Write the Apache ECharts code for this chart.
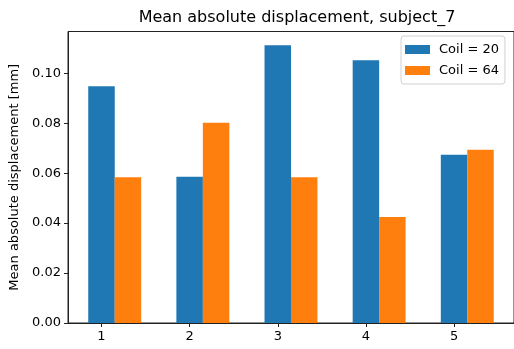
<!DOCTYPE html>
<html>
<head>
<meta charset="utf-8">
<script src="https://cdn.jsdelivr.net/npm/echarts@6/dist/echarts.min.js"></script>
<style>
  html, body { margin: 0; padding: 0; background: #fff; }
  #chart { width: 514px; height: 349px; }
</style>
</head>
<body>
<div id="chart"></div>
<script>
// Run numbers (x positions of the groups)
const runs = [1, 2, 3, 4, 5];
// Mean absolute displacement per run, in mm
const coil20 = [0.0948, 0.0586, 0.1112, 0.1052, 0.0674];
const coil64 = [0.0584, 0.0802, 0.0584, 0.0424, 0.0694];
const seriesNames = ['Coil = 20', 'Coil = 64'];
const yTicks = [0, 0.02, 0.04, 0.06, 0.08, 0.10];

// second group sits 0.3 to the right of each run
const offset = 0.3;
const pts20 = runs.map((r, i) => [r, coil20[i]]);
const pts64 = runs.map((r, i) => [r + offset, coil64[i]]);

const font = 'DejaVu Sans';
const chart = echarts.init(document.getElementById('chart'), null, { renderer: 'canvas' });

chart.setOption({
  animation: false,
  backgroundColor: '#fff',
  title: {
    text: 'Mean absolute displacement, subject_7',
    left: 292,
    textAlign: 'center',
    top: 5,
    textStyle: { fontFamily: font, fontSize: 16, fontWeight: 'normal', color: '#000' }
  },
  legend: {
    orient: 'vertical',
    left: 401,
    top: 36,
    padding: [6, 6, 6, 4],
    itemGap: 6,
    itemWidth: 25,
    itemHeight: 9,
    icon: 'rect',
    borderColor: '#d0d0d0',
    borderWidth: 1,
    borderRadius: 3,
    backgroundColor: 'rgba(255,255,255,0.8)',
    textStyle: { fontFamily: font, fontSize: 13, color: '#000', lineHeight: 15, padding: [0, 0, 0, 4] },
    data: seriesNames
  },
  grid: {
    left: 68,
    top: 31.5,
    width: 448,
    height: 291.5,
    show: true,
    borderColor: '#222',
    borderWidth: 1,
    backgroundColor: 'transparent'
  },
  xAxis: {
    type: 'value',
    min: 0.62,
    max: 5.68,
    axisLine: { show: true, onZero: false, lineStyle: { color: '#222', width: 1 } },
    axisTick: { show: true, length: 4, customValues: runs, lineStyle: { color: '#222' } },
    axisLabel: { customValues: runs, margin: 7, fontFamily: font, fontSize: 13, color: '#000' },
    splitLine: { show: false }
  },
  yAxis: {
    type: 'value',
    min: 0,
    max: 0.1167,
    name: 'Mean absolute displacement [mm]',
    nameLocation: 'middle',
    nameGap: 43,
    nameTextStyle: { fontFamily: font, fontSize: 13, color: '#000' },
    axisLine: { show: true, lineStyle: { color: '#222', width: 1 } },
    axisTick: { show: true, length: 4, customValues: yTicks, lineStyle: { color: '#222' } },
    axisLabel: {
      customValues: yTicks,
      margin: 7,
      fontFamily: font,
      fontSize: 13,
      color: '#000',
      formatter: v => v.toFixed(2)
    },
    splitLine: { show: false }
  },
  series: [
    {
      name: seriesNames[0],
      type: 'bar',
      data: pts20,
      barWidth: 26.5,
      barGap: '-100%',
      itemStyle: { color: '#1f77b4' }
    },
    {
      name: seriesNames[1],
      type: 'bar',
      data: pts64,
      barWidth: 26.5,
      barGap: '-100%',
      itemStyle: { color: '#ff7f0e' }
    }
  ]
});
</script>
</body>
</html>
